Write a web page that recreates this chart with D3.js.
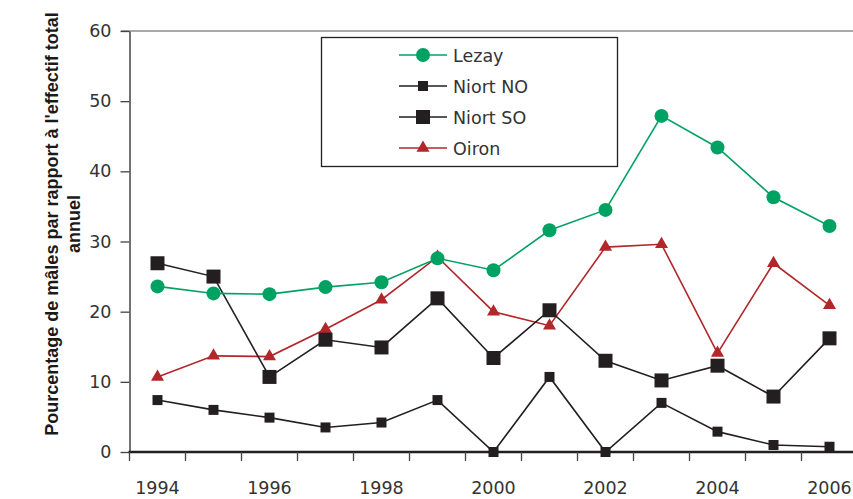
<!DOCTYPE html>
<html>
<head>
<meta charset="utf-8">
<script src="https://cdn.jsdelivr.net/npm/d3@7"></script>
<style>
  html, body { margin: 0; padding: 0; background: #fff; }
  svg { display: block; }
</style>
</head>
<body>
<div class="chart"></div>
<script>
const years = [1994, 1995, 1996, 1997, 1998, 1999, 2000, 2001, 2002, 2003, 2004, 2005, 2006];
const yearLabels = [1994, 1996, 1998, 2000, 2002, 2004, 2006];
const yTicks = [0, 10, 20, 30, 40, 50, 60];
const lezay = [23.6, 22.6, 22.5, 23.5, 24.2, 27.6, 25.9, 31.6, 34.5, 47.9, 43.4, 36.3, 32.2];
const niortNO = [7.4, 6.0, 4.9, 3.5, 4.2, 7.4, 0, 10.7, 0, 7.0, 2.9, 1.0, 0.75];
const niortSO = [26.9, 25.0, 10.7, 16.0, 14.9, 21.9, 13.4, 20.2, 13.0, 10.2, 12.3, 7.9, 16.2];
const oiron = [10.7, 13.7, 13.6, 17.5, 21.7, 27.8, 20.0, 18.0, 29.2, 29.6, 14.1, 26.9, 20.9];

document.addEventListener("DOMContentLoaded", function () {
  const width = 853;
  const height = 499;
  const fontTicks = "'DejaVu Sans', sans-serif";

  // series, in legend order
  const series = [
    { name: "Lezay", values: lezay, color: "#00a264", symbol: "circle", size: 7 },
    { name: "Niort NO", values: niortNO, color: "#231f20", symbol: "square", size: 10 },
    { name: "Niort SO", values: niortSO, color: "#231f20", symbol: "square", size: 14 },
    { name: "Oiron", values: oiron, color: "#b1272a", symbol: "triangle", size: 13 }
  ];

  const svg = d3.select(".chart")
    .append("svg")
    .attr("width", width)
    .attr("height", height);

  const x = d3.scaleBand()
    .domain(years)
    .range([129.5, 129.5 + 56 * years.length]);

  const y = d3.scaleLinear()
    .domain([0, 60])
    .range([452, 31]);

  // top frame line
  svg.append("line")
    .attr("x1", 121).attr("x2", width)
    .attr("y1", y(60)).attr("y2", y(60))
    .attr("stroke", "#555")
    .attr("stroke-width", 1.2);

  // y axis
  const yAxis = svg.append("g")
    .attr("transform", `translate(${x.range()[0]},0)`)
    .call(d3.axisLeft(y).tickValues(yTicks).tickSize(9).tickPadding(9).tickSizeOuter(0));
  yAxis.select(".domain").attr("stroke", "#444").attr("stroke-width", 1.5);
  yAxis.selectAll(".tick line").attr("stroke", "#444").attr("stroke-width", 1.3);
  yAxis.selectAll(".tick text")
    .attr("font-family", fontTicks)
    .attr("font-size", "17.5px")
    .attr("fill", "#333");

  // x axis: ticks on band edges, labels every two years
  const xg = svg.append("g");
  xg.append("line")
    .attr("x1", x.range()[0] - 1).attr("x2", width)
    .attr("y1", y(0)).attr("y2", y(0))
    .attr("stroke", "#231f20")
    .attr("stroke-width", 2.6);
  xg.selectAll(".xtick")
    .data(years)
    .enter()
    .append("line")
    .attr("class", "xtick")
    .attr("x1", d => x(d)).attr("x2", d => x(d))
    .attr("y1", y(0)).attr("y2", y(0) + 9)
    .attr("stroke", "#444")
    .attr("stroke-width", 1.3);
  xg.selectAll(".xlabel")
    .data(yearLabels)
    .enter()
    .append("text")
    .attr("class", "xlabel")
    .attr("x", d => x(d) + x.bandwidth() / 2)
    .attr("y", 494)
    .attr("text-anchor", "middle")
    .attr("font-family", fontTicks)
    .attr("font-size", "17.5px")
    .attr("fill", "#333")
    .text(d => d);

  // y axis title (two lines)
  const title = svg.append("text")
    .attr("transform", "translate(58,224) rotate(-90)")
    .attr("text-anchor", "middle")
    .attr("font-family", "'Liberation Sans', Arial, sans-serif")
    .attr("font-weight", "bold")
    .attr("font-size", "18px")
    .attr("fill", "#1a1a1a");
  title.append("tspan")
    .attr("x", 0).attr("y", 0)
    .text("Pourcentage de mâles par rapport à l'effectif total");
  title.append("tspan")
    .attr("x", 0).attr("y", 22)
    .text("annuel");

  function symbolPath(s) {
    if (s.symbol === "square") return d3.symbol(d3.symbolSquare, s.size * s.size)();
    if (s.symbol === "triangle") return d3.symbol(d3.symbolTriangle, s.size * s.size * 0.433)();
    return d3.symbol(d3.symbolCircle, Math.PI * s.size * s.size)();
  }

  const line = d3.line()
    .x((d, i) => x(years[i]) + x.bandwidth() / 2)
    .y(d => y(d));

  // draw back to front so the green sits on top
  const drawOrder = [3, 2, 1, 0];
  drawOrder.forEach(k => {
    const s = series[k];
    const g = svg.append("g");
    g.append("path")
      .datum(s.values)
      .attr("d", line)
      .attr("fill", "none")
      .attr("stroke", s.color)
      .attr("stroke-width", 1.6);
    g.selectAll("path.mark")
      .data(s.values)
      .enter()
      .append("path")
      .attr("class", "mark")
      .attr("transform", (d, i) => `translate(${x(years[i]) + x.bandwidth() / 2},${y(d)})`)
      .attr("d", symbolPath(s))
      .attr("fill", s.color);
  });

  // legend
  const legend = svg.append("g");
  legend.append("rect")
    .attr("x", 321.5).attr("y", 37.5)
    .attr("width", 296).attr("height", 129)
    .attr("fill", "#fff")
    .attr("stroke", "#231f20")
    .attr("stroke-width", 1.3);

  const legendRows = legend.selectAll(".row")
    .data(series)
    .enter()
    .append("g")
    .attr("class", "row")
    .attr("transform", (d, i) => `translate(0,${55 + i * 31})`);
  legendRows.append("line")
    .attr("x1", 399).attr("x2", 447)
    .attr("stroke", d => d.color)
    .attr("stroke-width", 1.6);
  legendRows.append("path")
    .attr("transform", "translate(423,0)")
    .attr("d", d => symbolPath(d))
    .attr("fill", d => d.color);
  legendRows.append("text")
    .attr("x", 453)
    .attr("y", 6.5)
    .attr("font-family", fontTicks)
    .attr("font-size", "17.5px")
    .attr("fill", "#333")
    .text(d => d.name);
});
</script>
</body>
</html>
